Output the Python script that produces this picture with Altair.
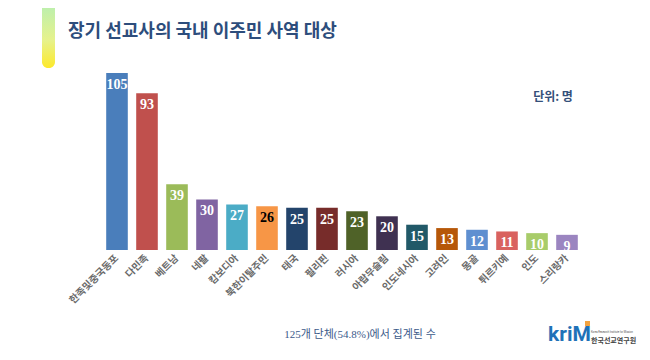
import altair as alt
import pandas as pd

categories = ["한족및중국동포", "다민족", "베트남", "네팔", "캄보디아", "북한이탈주민", "태국", "필리핀",
              "러시아", "아랍무슬림", "인도네시아", "고려인", "몽골", "튀르키예", "인도", "스리랑카"]
values = [105, 93, 39, 30, 27, 26, 25, 25, 23, 20, 15, 13, 12, 11, 10, 9]
bar_colors = ["#4a7ebb", "#c0504d", "#9bbb59", "#8064a2", "#4bacc6", "#f79646", "#23446b", "#772c2a",
              "#4f6228", "#3f3151", "#215968", "#b65708", "#5f8fd0", "#d9625f", "#a8cc6a", "#9b85c0"]
label_colors = ["white"] * 5 + ["black"] + ["white"] * 10

title_text = "장기 선교사의 국내 이주민 사역 대상"
unit_text = "단위: 명"
footer_text = "125개 단체(54.8%)에서 집계된 수"

df = pd.DataFrame({"cat": categories, "val": values, "col": bar_colors, "lcol": label_colors})

W, H = 480, 177

xenc = alt.X("cat:N", sort=categories,
             scale=alt.Scale(paddingInner=0.28, paddingOuter=0.14),
             axis=alt.Axis(title=None, labelAngle=-45, labelAlign="right", labelBaseline="middle",
                           labelFont="Noto Sans CJK KR", labelFontSize=10, labelFontWeight="bold",
                           labelColor="#6a6a6a", domain=False, ticks=False, grid=False, labelPadding=6))
yenc = alt.Y("val:Q", scale=alt.Scale(domain=[0, 105], nice=False), axis=None)

base = alt.Chart(df)

bars = base.mark_bar().encode(x=xenc, y=yenc, color=alt.Color("col:N", scale=None, legend=None))

labels = base.mark_text(font="Liberation Serif", fontSize=14, fontWeight="bold",
                        baseline="middle", dy=12).encode(
    x=alt.X("cat:N", sort=categories), y=alt.Y("val:Q"), text="val:Q",
    color=alt.Color("lcol:N", scale=None, legend=None))

accent = alt.Chart(pd.DataFrame({"a": [0]})).mark_rect(
    cornerRadius=6,
    color=alt.Gradient(gradient="linear", x1=0, y1=0, x2=0, y2=1,
                       stops=[alt.GradientStop(color="#b2efb6", offset=0),
                              alt.GradientStop(color="#e6f28c", offset=0.6),
                              alt.GradientStop(color="#fde92a", offset=1)])
).encode(x=alt.value(-60), x2=alt.value(-47), y=alt.value(-75), y2=alt.value(-5))

title = alt.Chart(pd.DataFrame({"t": [title_text]})).mark_text(
    font="Noto Sans CJK KR", fontSize=18, fontWeight="bold", color="#2d4d7c",
    align="left", baseline="middle").encode(x=alt.value(-34), y=alt.value(-41), text="t:N")

unit = alt.Chart(pd.DataFrame({"t": [unit_text]})).mark_text(
    font="Noto Sans CJK KR", fontSize=12, fontWeight="bold", color="#34507a",
    align="center", baseline="middle").encode(x=alt.value(451), y=alt.value(24), text="t:N")

footer = alt.Chart(pd.DataFrame({"t": [footer_text]})).mark_text(
    font="'Liberation Serif', 'Noto Sans CJK KR'", fontSize=11, color="#3b5a8a",
    align="center", baseline="middle").encode(x=alt.value(258), y=alt.value(262), text="t:N")

logo = alt.Chart(pd.DataFrame({"t": ["kriM"]})).mark_text(
    font="Roboto", fontSize=21, fontWeight="bold", color="#1f72b8",
    align="left", baseline="middle").encode(x=alt.value(446), y=alt.value(262), text="t:N")

logo_sq = alt.Chart(pd.DataFrame({"a": [0]})).mark_rect(color="#f4a340").encode(
    x=alt.value(483), x2=alt.value(488), y=alt.value(248), y2=alt.value(253))

logo_en = alt.Chart(pd.DataFrame({"t": ["Korea Research Institute for Mission"]})).mark_text(
    font="Roboto", fontSize=2.6, color="#555555", align="left", baseline="middle").encode(
    x=alt.value(489), y=alt.value(259), text="t:N")

logo_kr = alt.Chart(pd.DataFrame({"t": ["한국선교연구원"]})).mark_text(
    font="Noto Sans CJK KR", fontSize=7, fontWeight="bold", color="#444444",
    align="left", baseline="middle").encode(x=alt.value(489), y=alt.value(268), text="t:N")

chart = alt.layer(accent, title, unit, bars, labels, footer, logo, logo_sq, logo_en, logo_kr).properties(
    width=W, height=H, autosize=alt.AutoSizeParams(type="none"),
    padding={"left": 94, "top": 65, "right": 60, "bottom": 110}
).configure(background="white").configure_view(strokeWidth=0, stroke="transparent")

chart.save("out.html", embed_options={"renderer": "svg", "actions": False})
